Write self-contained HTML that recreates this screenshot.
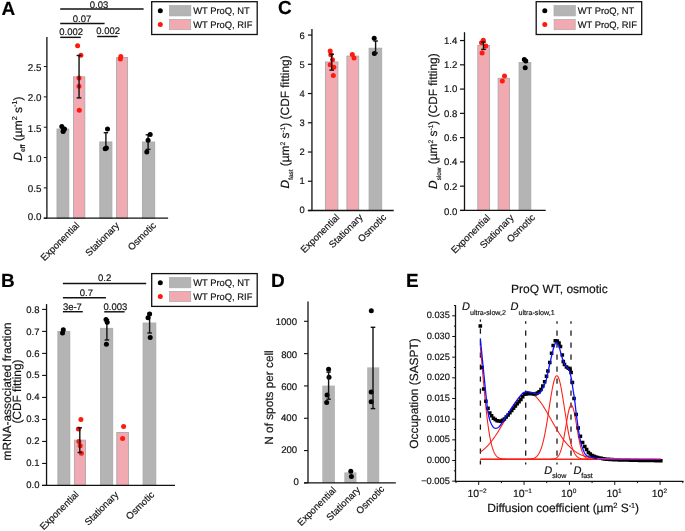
<!DOCTYPE html>
<html><head><meta charset="utf-8"><style>
html,body{margin:0;padding:0;background:#fff;overflow:hidden;}
svg{display:block;font-family:"Liberation Sans", sans-serif;text-rendering:geometricPrecision;will-change:transform;} text{stroke:#111;stroke-width:0.17px;}
</style></head><body>
<svg width="685" height="531" viewBox="0 0 685 531">
<rect width="685" height="531" fill="#fff"/>
<text x="1.6" y="14.7" font-size="19" font-weight="bold" fill="#000">A</text>
<rect x="57" y="129.03" width="11.8" height="89.17" fill="#b3b4b3" stroke="#a9a9a9" stroke-width="0.9"/>
<rect x="73.5" y="76.86" width="11.3" height="141.34" fill="#f1aab1" stroke="#a9a9a9" stroke-width="0.9"/>
<rect x="99.8" y="141.95" width="12.1" height="76.25" fill="#b3b4b3" stroke="#a9a9a9" stroke-width="0.9"/>
<rect x="116.6" y="57.45" width="11" height="160.75" fill="#f1aab1" stroke="#a9a9a9" stroke-width="0.9"/>
<rect x="142.4" y="142.01" width="12.3" height="76.19" fill="#b3b4b3" stroke="#a9a9a9" stroke-width="0.9"/>
<line x1="46.9" y1="36.9" x2="46.9" y2="218.2" stroke="#111" stroke-width="1.3"/>
<line x1="43.8" y1="218.2" x2="168.1" y2="218.2" stroke="#111" stroke-width="1.3"/>
<line x1="43.8" y1="218.2" x2="46.9" y2="218.2" stroke="#111" stroke-width="1.0"/>
<text x="41.4" y="220" font-size="9.85" text-anchor="end" fill="#111">0.0</text>
<line x1="43.8" y1="187.87" x2="46.9" y2="187.87" stroke="#111" stroke-width="1.0"/>
<text x="41.4" y="192.27" font-size="9.85" text-anchor="end" fill="#111">0.5</text>
<line x1="43.8" y1="157.54" x2="46.9" y2="157.54" stroke="#111" stroke-width="1.0"/>
<text x="41.4" y="161.94" font-size="9.85" text-anchor="end" fill="#111">1.0</text>
<line x1="43.8" y1="127.21" x2="46.9" y2="127.21" stroke="#111" stroke-width="1.0"/>
<text x="41.4" y="131.61" font-size="9.85" text-anchor="end" fill="#111">1.5</text>
<line x1="43.8" y1="96.88" x2="46.9" y2="96.88" stroke="#111" stroke-width="1.0"/>
<text x="41.4" y="101.28" font-size="9.85" text-anchor="end" fill="#111">2.0</text>
<line x1="43.8" y1="66.55" x2="46.9" y2="66.55" stroke="#111" stroke-width="1.0"/>
<text x="41.4" y="70.95" font-size="9.85" text-anchor="end" fill="#111">2.5</text>
<circle cx="77.6" cy="45.85" r="2.5" fill="#ff1a0f"/>
<circle cx="80.9" cy="55.2" r="2.5" fill="#ff1a0f"/>
<circle cx="79" cy="78" r="2.5" fill="#ff1a0f"/>
<circle cx="79" cy="86.3" r="2.5" fill="#ff1a0f"/>
<circle cx="79.3" cy="110.2" r="2.5" fill="#ff1a0f"/>
<line x1="79.05" y1="55.5" x2="79.05" y2="97.9" stroke="#111" stroke-width="1.4"/>
<line x1="76.65" y1="55.5" x2="81.45" y2="55.5" stroke="#111" stroke-width="1.4"/>
<line x1="76.65" y1="97.9" x2="81.45" y2="97.9" stroke="#111" stroke-width="1.4"/>
<circle cx="120.8" cy="56.4" r="2.5" fill="#ff1a0f"/>
<circle cx="120.4" cy="59" r="2.5" fill="#ff1a0f"/>
<circle cx="61.8" cy="126.4" r="2.5" fill="#000"/>
<circle cx="64.5" cy="128.9" r="2.5" fill="#000"/>
<circle cx="63.1" cy="131.6" r="2.5" fill="#000"/>
<circle cx="63.4" cy="130.2" r="2.5" fill="#000"/>
<line x1="105.9" y1="132.7" x2="105.9" y2="148" stroke="#111" stroke-width="1.4"/>
<line x1="103.7" y1="132.7" x2="108.1" y2="132.7" stroke="#111" stroke-width="1.4"/>
<line x1="103.7" y1="148" x2="108.1" y2="148" stroke="#111" stroke-width="1.4"/>
<circle cx="107.5" cy="129.1" r="2.5" fill="#000"/>
<circle cx="105.2" cy="148.8" r="2.5" fill="#000"/>
<circle cx="106.4" cy="148" r="2.5" fill="#000"/>
<line x1="148.1" y1="134.8" x2="148.1" y2="149.4" stroke="#111" stroke-width="1.4"/>
<line x1="145.7" y1="134.8" x2="150.5" y2="134.8" stroke="#111" stroke-width="1.4"/>
<line x1="145.7" y1="149.4" x2="150.5" y2="149.4" stroke="#111" stroke-width="1.4"/>
<circle cx="150.2" cy="134.5" r="2.5" fill="#000"/>
<circle cx="148.1" cy="140.3" r="2.5" fill="#000"/>
<circle cx="146.8" cy="151.9" r="2.5" fill="#000"/>
<line x1="60.2" y1="9" x2="143.6" y2="9" stroke="#111" stroke-width="1.45"/>
<text x="99.05" y="7.8" font-size="9.5" text-anchor="middle" fill="#111">0.03</text>
<line x1="60.2" y1="23.5" x2="104.6" y2="23.5" stroke="#111" stroke-width="1.45"/>
<text x="82.05" y="21.6" font-size="9.5" text-anchor="middle" fill="#111">0.07</text>
<line x1="60.2" y1="37.35" x2="80.8" y2="37.35" stroke="#111" stroke-width="1.45"/>
<text x="71.15" y="34.8" font-size="9.5" text-anchor="middle" fill="#111">0.002</text>
<line x1="97.2" y1="36.5" x2="117.6" y2="36.5" stroke="#111" stroke-width="1.45"/>
<text x="108.2" y="34" font-size="9.5" text-anchor="middle" fill="#111">0.002</text>
<text transform="translate(21.9 160.7) rotate(-90)" font-size="12" fill="#111"><tspan font-style="italic">D</tspan><tspan font-size="6.8" dy="3.2">eff</tspan><tspan dy="-3.2"> (µm</tspan><tspan font-size="7.2" dy="-4.6">2</tspan><tspan dy="4.6"> s</tspan><tspan font-size="7.2" dy="-4.6">-1</tspan><tspan dy="4.6">)</tspan></text>
<text x="80.1" y="226" font-size="9.65" text-anchor="end" fill="#111" transform="rotate(-45 80.1 226)">Exponential</text>
<text x="120" y="226" font-size="9.65" text-anchor="end" fill="#111" transform="rotate(-45 120 226)">Stationary</text>
<text x="156.6" y="226" font-size="9.65" text-anchor="end" fill="#111" transform="rotate(-45 156.6 226)">Osmotic</text>
<text x="1" y="286.7" font-size="19" font-weight="bold" fill="#000">B</text>
<rect x="57.9" y="331.41" width="11.9" height="154.04" fill="#b3b4b3" stroke="#a9a9a9" stroke-width="0.9"/>
<rect x="74.4" y="440.12" width="11.1" height="45.33" fill="#f1aab1" stroke="#a9a9a9" stroke-width="0.9"/>
<rect x="100.6" y="328.33" width="12.1" height="157.12" fill="#b3b4b3" stroke="#a9a9a9" stroke-width="0.9"/>
<rect x="116.8" y="432.5" width="11.7" height="52.95" fill="#f1aab1" stroke="#a9a9a9" stroke-width="0.9"/>
<rect x="143.1" y="323.05" width="12.7" height="162.4" fill="#b3b4b3" stroke="#a9a9a9" stroke-width="0.9"/>
<line x1="46.55" y1="304.1" x2="46.55" y2="485.45" stroke="#111" stroke-width="1.3"/>
<line x1="42.1" y1="485.45" x2="175" y2="485.45" stroke="#111" stroke-width="1.3"/>
<line x1="42.1" y1="485.45" x2="46.55" y2="485.45" stroke="#111" stroke-width="1.1"/>
<text x="39.5" y="488.05" font-size="9.5" text-anchor="end" fill="#111">0.0</text>
<line x1="42.1" y1="463.44" x2="46.55" y2="463.44" stroke="#111" stroke-width="1.1"/>
<text x="39.5" y="466.13" font-size="9.5" text-anchor="end" fill="#111">0.1</text>
<line x1="42.1" y1="441.44" x2="46.55" y2="441.44" stroke="#111" stroke-width="1.1"/>
<text x="39.5" y="444.21" font-size="9.5" text-anchor="end" fill="#111">0.2</text>
<line x1="42.1" y1="419.43" x2="46.55" y2="419.43" stroke="#111" stroke-width="1.1"/>
<text x="39.5" y="422.29" font-size="9.5" text-anchor="end" fill="#111">0.3</text>
<line x1="42.1" y1="397.43" x2="46.55" y2="397.43" stroke="#111" stroke-width="1.1"/>
<text x="39.5" y="400.38" font-size="9.5" text-anchor="end" fill="#111">0.4</text>
<line x1="42.1" y1="375.42" x2="46.55" y2="375.42" stroke="#111" stroke-width="1.1"/>
<text x="39.5" y="378.46" font-size="9.5" text-anchor="end" fill="#111">0.5</text>
<line x1="42.1" y1="353.41" x2="46.55" y2="353.41" stroke="#111" stroke-width="1.1"/>
<text x="39.5" y="356.54" font-size="9.5" text-anchor="end" fill="#111">0.6</text>
<line x1="42.1" y1="331.41" x2="46.55" y2="331.41" stroke="#111" stroke-width="1.1"/>
<text x="39.5" y="334.62" font-size="9.5" text-anchor="end" fill="#111">0.7</text>
<line x1="42.1" y1="309.4" x2="46.55" y2="309.4" stroke="#111" stroke-width="1.1"/>
<text x="39.5" y="312.7" font-size="9.5" text-anchor="end" fill="#111">0.8</text>
<circle cx="80.9" cy="419.4" r="2.5" fill="#ff1a0f"/>
<circle cx="78.4" cy="429.1" r="2.5" fill="#ff1a0f"/>
<circle cx="78.9" cy="441.5" r="2.5" fill="#ff1a0f"/>
<circle cx="80.2" cy="445.7" r="2.5" fill="#ff1a0f"/>
<circle cx="81.4" cy="453.2" r="2.5" fill="#ff1a0f"/>
<line x1="79.8" y1="427.8" x2="79.8" y2="452.5" stroke="#111" stroke-width="1.4"/>
<line x1="77.6" y1="427.8" x2="82" y2="427.8" stroke="#111" stroke-width="1.4"/>
<line x1="77.6" y1="452.5" x2="82" y2="452.5" stroke="#111" stroke-width="1.4"/>
<circle cx="123.6" cy="426.6" r="2.5" fill="#ff1a0f"/>
<circle cx="122.6" cy="438.5" r="2.5" fill="#ff1a0f"/>
<circle cx="63.3" cy="329.7" r="2.5" fill="#000"/>
<circle cx="62.5" cy="333" r="2.5" fill="#000"/>
<line x1="106.9" y1="319.7" x2="106.9" y2="340" stroke="#111" stroke-width="1.4"/>
<line x1="104.6" y1="319.7" x2="109.2" y2="319.7" stroke="#111" stroke-width="1.4"/>
<line x1="104.6" y1="340" x2="109.2" y2="340" stroke="#111" stroke-width="1.4"/>
<circle cx="106" cy="319.4" r="2.5" fill="#000"/>
<circle cx="107.2" cy="322.2" r="2.5" fill="#000"/>
<circle cx="106.4" cy="344.3" r="2.5" fill="#000"/>
<line x1="149.6" y1="313.4" x2="149.6" y2="333" stroke="#111" stroke-width="1.4"/>
<line x1="147.3" y1="313.4" x2="151.9" y2="313.4" stroke="#111" stroke-width="1.4"/>
<line x1="147.3" y1="333" x2="151.9" y2="333" stroke="#111" stroke-width="1.4"/>
<circle cx="149.6" cy="314" r="2.5" fill="#000"/>
<circle cx="148" cy="317.7" r="2.5" fill="#000"/>
<circle cx="150.2" cy="337.6" r="2.5" fill="#000"/>
<line x1="62.9" y1="283.45" x2="146.2" y2="283.45" stroke="#111" stroke-width="1.45"/>
<text x="104.6" y="281.2" font-size="9.5" text-anchor="middle" fill="#111">0.2</text>
<line x1="62.9" y1="297.65" x2="105.9" y2="297.65" stroke="#111" stroke-width="1.45"/>
<text x="86.35" y="295.6" font-size="9.5" text-anchor="middle" fill="#111">0.7</text>
<line x1="62.9" y1="311.7" x2="82.8" y2="311.7" stroke="#111" stroke-width="1.45"/>
<text x="72.4" y="309.7" font-size="9.5" text-anchor="middle" fill="#111">3e-7</text>
<line x1="104.2" y1="311.8" x2="124.6" y2="311.8" stroke="#111" stroke-width="1.45"/>
<text x="115.35" y="309.7" font-size="9.5" text-anchor="middle" fill="#111">0.003</text>
<text transform="translate(10.6 391.4) rotate(-90)" font-size="11.9" fill="#111" text-anchor="middle">mRNA-associated fraction</text>
<text transform="translate(20.5 391.55) rotate(-90)" font-size="11.9" fill="#111" text-anchor="middle">(CDF fitting)</text>
<text x="79.4" y="495" font-size="9.65" text-anchor="end" fill="#111" transform="rotate(-45 79.4 495)">Exponential</text>
<text x="119.1" y="495.3" font-size="9.65" text-anchor="end" fill="#111" transform="rotate(-45 119.1 495.3)">Stationary</text>
<text x="154.8" y="495.3" font-size="9.65" text-anchor="end" fill="#111" transform="rotate(-45 154.8 495.3)">Osmotic</text>
<text x="277.9" y="14.4" font-size="19" font-weight="bold" fill="#000">C</text>
<rect x="325.4" y="61.99" width="12.5" height="148.51" fill="#f1aab1" stroke="#a9a9a9" stroke-width="0.9"/>
<rect x="346.9" y="56.11" width="11.8" height="154.39" fill="#f1aab1" stroke="#a9a9a9" stroke-width="0.9"/>
<rect x="369.1" y="48.22" width="12.6" height="162.28" fill="#b3b4b3" stroke="#a9a9a9" stroke-width="0.9"/>
<line x1="311.95" y1="29.05" x2="311.95" y2="210.5" stroke="#111" stroke-width="1.3"/>
<line x1="307.9" y1="210.5" x2="393.7" y2="210.5" stroke="#111" stroke-width="1.3"/>
<line x1="307.9" y1="210.5" x2="311.95" y2="210.5" stroke="#111" stroke-width="1.2"/>
<text x="304.7" y="212.8" font-size="9.4" text-anchor="end" fill="#111">0</text>
<line x1="307.9" y1="181.26" x2="311.95" y2="181.26" stroke="#111" stroke-width="1.2"/>
<text x="304.7" y="184.16" font-size="9.4" text-anchor="end" fill="#111">1</text>
<line x1="307.9" y1="152.02" x2="311.95" y2="152.02" stroke="#111" stroke-width="1.2"/>
<text x="304.7" y="155.12" font-size="9.4" text-anchor="end" fill="#111">2</text>
<line x1="307.9" y1="122.78" x2="311.95" y2="122.78" stroke="#111" stroke-width="1.2"/>
<text x="304.7" y="126.08" font-size="9.4" text-anchor="end" fill="#111">3</text>
<line x1="307.9" y1="93.54" x2="311.95" y2="93.54" stroke="#111" stroke-width="1.2"/>
<text x="304.7" y="97.04" font-size="9.4" text-anchor="end" fill="#111">4</text>
<line x1="307.9" y1="64.3" x2="311.95" y2="64.3" stroke="#111" stroke-width="1.2"/>
<text x="304.7" y="68" font-size="9.4" text-anchor="end" fill="#111">5</text>
<line x1="307.9" y1="35.06" x2="311.95" y2="35.06" stroke="#111" stroke-width="1.2"/>
<text x="304.7" y="38.96" font-size="9.4" text-anchor="end" fill="#111">6</text>
<circle cx="330.2" cy="51" r="2.5" fill="#ff1a0f"/>
<circle cx="330.8" cy="54.7" r="2.5" fill="#ff1a0f"/>
<circle cx="332.5" cy="59.7" r="2.5" fill="#ff1a0f"/>
<circle cx="330.2" cy="64.7" r="2.5" fill="#ff1a0f"/>
<circle cx="333.8" cy="67.2" r="2.5" fill="#ff1a0f"/>
<circle cx="333.3" cy="75.5" r="2.5" fill="#ff1a0f"/>
<line x1="331.7" y1="54.2" x2="331.7" y2="70.1" stroke="#111" stroke-width="1.4"/>
<line x1="329.4" y1="54.2" x2="334" y2="54.2" stroke="#111" stroke-width="1.4"/>
<line x1="329.4" y1="70.1" x2="334" y2="70.1" stroke="#111" stroke-width="1.4"/>
<circle cx="352.3" cy="54.4" r="2.5" fill="#ff1a0f"/>
<circle cx="354" cy="58.1" r="2.5" fill="#ff1a0f"/>
<circle cx="374.2" cy="38.2" r="2.5" fill="#000"/>
<circle cx="374.4" cy="53.4" r="2.5" fill="#000"/>
<line x1="375.6" y1="41" x2="375.6" y2="53" stroke="#111" stroke-width="1.4"/>
<line x1="373.3" y1="41" x2="377.9" y2="41" stroke="#111" stroke-width="1.4"/>
<line x1="373.3" y1="53" x2="377.9" y2="53" stroke="#111" stroke-width="1.4"/>
<text transform="translate(289.4 188.4) rotate(-90)" font-size="11.9" fill="#111"><tspan font-style="italic">D</tspan><tspan font-size="6.4" dy="3.4">fast</tspan><tspan dy="-3.4"> (µm</tspan><tspan font-size="6.6" dy="-4.2">2</tspan><tspan dy="4.2"> s</tspan><tspan font-size="6.6" dy="-4.2">-1</tspan><tspan dy="4.2">) (CDF fitting)</tspan></text>
<text x="340.1" y="218" font-size="9.65" text-anchor="end" fill="#111" transform="rotate(-45 340.1 218)">Exponential</text>
<text x="363.5" y="217.9" font-size="9.65" text-anchor="end" fill="#111" transform="rotate(-45 363.5 217.9)">Stationary</text>
<text x="386.8" y="217.9" font-size="9.65" text-anchor="end" fill="#111" transform="rotate(-45 386.8 217.9)">Osmotic</text>
<rect x="477.8" y="45.4" width="11.8" height="165.05" fill="#f1aab1" stroke="#a9a9a9" stroke-width="0.9"/>
<rect x="498.1" y="78.29" width="11.4" height="132.16" fill="#f1aab1" stroke="#a9a9a9" stroke-width="0.9"/>
<rect x="519.1" y="62.51" width="11.7" height="147.94" fill="#b3b4b3" stroke="#a9a9a9" stroke-width="0.9"/>
<line x1="464.5" y1="32.2" x2="464.5" y2="210.45" stroke="#111" stroke-width="1.3"/>
<line x1="460" y1="210.45" x2="545.7" y2="210.45" stroke="#111" stroke-width="1.3"/>
<line x1="460" y1="210.45" x2="464.5" y2="210.45" stroke="#111" stroke-width="1.2"/>
<text x="457.3" y="214.85" font-size="9.6" text-anchor="end" fill="#111">0.0</text>
<line x1="460" y1="186.18" x2="464.5" y2="186.18" stroke="#111" stroke-width="1.2"/>
<text x="457.3" y="189.58" font-size="9.6" text-anchor="end" fill="#111">0.2</text>
<line x1="460" y1="161.91" x2="464.5" y2="161.91" stroke="#111" stroke-width="1.2"/>
<text x="457.3" y="165.31" font-size="9.6" text-anchor="end" fill="#111">0.4</text>
<line x1="460" y1="137.63" x2="464.5" y2="137.63" stroke="#111" stroke-width="1.2"/>
<text x="457.3" y="141.03" font-size="9.6" text-anchor="end" fill="#111">0.6</text>
<line x1="460" y1="113.36" x2="464.5" y2="113.36" stroke="#111" stroke-width="1.2"/>
<text x="457.3" y="116.76" font-size="9.6" text-anchor="end" fill="#111">0.8</text>
<line x1="460" y1="89.09" x2="464.5" y2="89.09" stroke="#111" stroke-width="1.2"/>
<text x="457.3" y="92.49" font-size="9.6" text-anchor="end" fill="#111">1.0</text>
<line x1="460" y1="64.82" x2="464.5" y2="64.82" stroke="#111" stroke-width="1.2"/>
<text x="457.3" y="68.22" font-size="9.6" text-anchor="end" fill="#111">1.2</text>
<line x1="460" y1="40.55" x2="464.5" y2="40.55" stroke="#111" stroke-width="1.2"/>
<text x="457.3" y="43.95" font-size="9.6" text-anchor="end" fill="#111">1.4</text>
<circle cx="483.3" cy="40.3" r="2.5" fill="#ff1a0f"/>
<circle cx="481.5" cy="42.8" r="2.5" fill="#ff1a0f"/>
<circle cx="485.8" cy="46" r="2.5" fill="#ff1a0f"/>
<circle cx="482.1" cy="53" r="2.5" fill="#ff1a0f"/>
<line x1="483.5" y1="42.1" x2="483.5" y2="49.4" stroke="#111" stroke-width="1.4"/>
<line x1="481.2" y1="42.1" x2="485.8" y2="42.1" stroke="#111" stroke-width="1.4"/>
<line x1="481.2" y1="49.4" x2="485.8" y2="49.4" stroke="#111" stroke-width="1.4"/>
<circle cx="504.5" cy="75.9" r="2.5" fill="#ff1a0f"/>
<circle cx="502.3" cy="80.9" r="2.5" fill="#ff1a0f"/>
<circle cx="524.3" cy="59.4" r="2.5" fill="#000"/>
<circle cx="525.8" cy="60.9" r="2.5" fill="#000"/>
<circle cx="525.2" cy="67.7" r="2.5" fill="#000"/>
<text transform="translate(437.4 188.9) rotate(-90)" font-size="11.9" fill="#111"><tspan font-style="italic">D</tspan><tspan font-size="6.4" dy="3.4">slow</tspan><tspan dy="-3.4"> (µm</tspan><tspan font-size="6.6" dy="-4.2">2</tspan><tspan dy="4.2"> s</tspan><tspan font-size="6.6" dy="-4.2">-1</tspan><tspan dy="4.2">) (CDF fitting)</tspan></text>
<text x="490.7" y="218.5" font-size="9.65" text-anchor="end" fill="#111" transform="rotate(-45 490.7 218.5)">Exponential</text>
<text x="514.3" y="218.4" font-size="9.65" text-anchor="end" fill="#111" transform="rotate(-45 514.3 218.4)">Stationary</text>
<text x="535.6" y="218.1" font-size="9.65" text-anchor="end" fill="#111" transform="rotate(-45 535.6 218.1)">Osmotic</text>
<text x="271" y="286.8" font-size="19" font-weight="bold" fill="#000">D</text>
<rect x="322.3" y="385.62" width="12.6" height="97.28" fill="#b3b4b3"/>
<rect x="344.3" y="472.4" width="12.2" height="10.5" fill="#b3b4b3"/>
<rect x="367.2" y="367.36" width="12" height="115.54" fill="#b3b4b3"/>
<line x1="308" y1="301.4" x2="308" y2="482.9" stroke="#111" stroke-width="1.3"/>
<line x1="304" y1="482.9" x2="395.8" y2="482.9" stroke="#111" stroke-width="1.3"/>
<line x1="304" y1="482.9" x2="308" y2="482.9" stroke="#111" stroke-width="1.1"/>
<text x="298.9" y="485.1" font-size="9.6" text-anchor="end" fill="#111">0</text>
<line x1="304" y1="450.58" x2="308" y2="450.58" stroke="#111" stroke-width="1.1"/>
<text x="297.2" y="453.48" font-size="9.6" text-anchor="end" fill="#111">200</text>
<line x1="304" y1="418.26" x2="308" y2="418.26" stroke="#111" stroke-width="1.1"/>
<text x="297" y="421.06" font-size="9.6" text-anchor="end" fill="#111">400</text>
<line x1="304" y1="385.94" x2="308" y2="385.94" stroke="#111" stroke-width="1.1"/>
<text x="297.2" y="389.84" font-size="9.6" text-anchor="end" fill="#111">600</text>
<line x1="304" y1="353.62" x2="308" y2="353.62" stroke="#111" stroke-width="1.1"/>
<text x="297.2" y="357.52" font-size="9.6" text-anchor="end" fill="#111">800</text>
<line x1="304" y1="321.3" x2="308" y2="321.3" stroke="#111" stroke-width="1.1"/>
<text x="297" y="325.2" font-size="9.6" text-anchor="end" fill="#111">1000</text>
<circle cx="328.6" cy="369.3" r="2.5" fill="#000"/>
<circle cx="329" cy="377.2" r="2.5" fill="#000"/>
<circle cx="327.1" cy="395.1" r="2.5" fill="#000"/>
<circle cx="326.7" cy="402.6" r="2.5" fill="#000"/>
<line x1="328.6" y1="372.1" x2="328.6" y2="399.2" stroke="#111" stroke-width="1.4"/>
<line x1="326.4" y1="372.1" x2="330.8" y2="372.1" stroke="#111" stroke-width="1.4"/>
<line x1="326.4" y1="399.2" x2="330.8" y2="399.2" stroke="#111" stroke-width="1.4"/>
<circle cx="350.8" cy="471.3" r="2.5" fill="#000"/>
<circle cx="351.4" cy="476.4" r="2.5" fill="#000"/>
<circle cx="371.3" cy="310.7" r="2.5" fill="#000"/>
<circle cx="371.2" cy="391.9" r="2.5" fill="#000"/>
<circle cx="371.2" cy="401.7" r="2.5" fill="#000"/>
<line x1="373" y1="327.3" x2="373" y2="408.6" stroke="#111" stroke-width="1.4"/>
<line x1="370.7" y1="327.3" x2="375.3" y2="327.3" stroke="#111" stroke-width="1.4"/>
<line x1="370.7" y1="408.6" x2="375.3" y2="408.6" stroke="#111" stroke-width="1.4"/>
<text transform="translate(273.2 397.5) rotate(-90)" font-size="11.8" fill="#111" text-anchor="middle">N of spots per cell</text>
<text x="336.9" y="490.8" font-size="9.65" text-anchor="end" fill="#111" transform="rotate(-45 336.9 490.8)">Exponential</text>
<text x="360.9" y="490.5" font-size="9.65" text-anchor="end" fill="#111" transform="rotate(-45 360.9 490.5)">Stationary</text>
<text x="385" y="489.7" font-size="9.65" text-anchor="end" fill="#111" transform="rotate(-45 385 489.7)">Osmotic</text>
<text x="405.9" y="286.6" font-size="19" font-weight="bold" fill="#000">E</text>
<line x1="455.5" y1="305.1" x2="455.5" y2="481.45" stroke="#111" stroke-width="1.3"/>
<line x1="454.9" y1="481.45" x2="683.5" y2="481.45" stroke="#111" stroke-width="1.3"/>
<line x1="452.2" y1="481.17" x2="455.5" y2="481.17" stroke="#111" stroke-width="1.0"/>
<text x="449.9" y="483.77" font-size="9.3" text-anchor="end" fill="#111">&#8722;0.005</text>
<line x1="453.9" y1="470.83" x2="455.5" y2="470.83" stroke="#111" stroke-width="1.0"/>
<line x1="452.2" y1="460.5" x2="455.5" y2="460.5" stroke="#111" stroke-width="1.0"/>
<text x="449.9" y="463.1" font-size="9.3" text-anchor="end" fill="#111">0.000</text>
<line x1="453.9" y1="450.17" x2="455.5" y2="450.17" stroke="#111" stroke-width="1.0"/>
<line x1="452.2" y1="439.83" x2="455.5" y2="439.83" stroke="#111" stroke-width="1.0"/>
<text x="449.9" y="442.43" font-size="9.3" text-anchor="end" fill="#111">0.005</text>
<line x1="453.9" y1="429.5" x2="455.5" y2="429.5" stroke="#111" stroke-width="1.0"/>
<line x1="452.2" y1="419.16" x2="455.5" y2="419.16" stroke="#111" stroke-width="1.0"/>
<text x="449.9" y="421.76" font-size="9.3" text-anchor="end" fill="#111">0.010</text>
<line x1="453.9" y1="408.82" x2="455.5" y2="408.82" stroke="#111" stroke-width="1.0"/>
<line x1="452.2" y1="398.49" x2="455.5" y2="398.49" stroke="#111" stroke-width="1.0"/>
<text x="449.9" y="401.09" font-size="9.3" text-anchor="end" fill="#111">0.015</text>
<line x1="453.9" y1="388.15" x2="455.5" y2="388.15" stroke="#111" stroke-width="1.0"/>
<line x1="452.2" y1="377.82" x2="455.5" y2="377.82" stroke="#111" stroke-width="1.0"/>
<text x="449.9" y="380.42" font-size="9.3" text-anchor="end" fill="#111">0.020</text>
<line x1="453.9" y1="367.49" x2="455.5" y2="367.49" stroke="#111" stroke-width="1.0"/>
<line x1="452.2" y1="357.15" x2="455.5" y2="357.15" stroke="#111" stroke-width="1.0"/>
<text x="449.9" y="359.75" font-size="9.3" text-anchor="end" fill="#111">0.025</text>
<line x1="453.9" y1="346.81" x2="455.5" y2="346.81" stroke="#111" stroke-width="1.0"/>
<line x1="452.2" y1="336.48" x2="455.5" y2="336.48" stroke="#111" stroke-width="1.0"/>
<text x="449.9" y="339.08" font-size="9.3" text-anchor="end" fill="#111">0.030</text>
<line x1="453.9" y1="326.14" x2="455.5" y2="326.14" stroke="#111" stroke-width="1.0"/>
<line x1="452.2" y1="315.81" x2="455.5" y2="315.81" stroke="#111" stroke-width="1.0"/>
<text x="449.9" y="318.41" font-size="9.3" text-anchor="end" fill="#111">0.035</text>
<line x1="453.9" y1="305.48" x2="455.5" y2="305.48" stroke="#111" stroke-width="1.0"/>
<line x1="456.02" y1="481.45" x2="456.02" y2="483.15" stroke="#111" stroke-width="1.0"/>
<line x1="478.7" y1="481.45" x2="478.7" y2="484.85" stroke="#111" stroke-width="1.0"/>
<text x="477.1" y="497.0" font-size="10.5" text-anchor="middle" fill="#111">10<tspan font-size="6.5" dy="-3.8">&#8722;2</tspan></text>
<line x1="501.38" y1="481.45" x2="501.38" y2="483.15" stroke="#111" stroke-width="1.0"/>
<line x1="524.05" y1="481.45" x2="524.05" y2="484.85" stroke="#111" stroke-width="1.0"/>
<text x="522.45" y="497.0" font-size="10.5" text-anchor="middle" fill="#111">10<tspan font-size="6.5" dy="-3.8">&#8722;1</tspan></text>
<line x1="546.73" y1="481.45" x2="546.73" y2="483.15" stroke="#111" stroke-width="1.0"/>
<line x1="569.4" y1="481.45" x2="569.4" y2="484.85" stroke="#111" stroke-width="1.0"/>
<text x="568.7" y="497.0" font-size="10.5" text-anchor="middle" fill="#111">10<tspan font-size="6.5" dy="-3.8">0</tspan></text>
<line x1="592.07" y1="481.45" x2="592.07" y2="483.15" stroke="#111" stroke-width="1.0"/>
<line x1="614.75" y1="481.45" x2="614.75" y2="484.85" stroke="#111" stroke-width="1.0"/>
<text x="614.05" y="497.0" font-size="10.5" text-anchor="middle" fill="#111">10<tspan font-size="6.5" dy="-3.8">1</tspan></text>
<line x1="637.42" y1="481.45" x2="637.42" y2="483.15" stroke="#111" stroke-width="1.0"/>
<line x1="660.1" y1="481.45" x2="660.1" y2="484.85" stroke="#111" stroke-width="1.0"/>
<text x="659.4" y="497.0" font-size="10.5" text-anchor="middle" fill="#111">10<tspan font-size="6.5" dy="-3.8">2</tspan></text>
<line x1="682.77" y1="481.45" x2="682.77" y2="483.15" stroke="#111" stroke-width="1.0"/>
<text x="559.4" y="292.5" font-size="12.0" text-anchor="middle" fill="#111">ProQ WT, osmotic</text>
<text x="487.3" y="511.8" font-size="12.0" fill="#111" textLength="151.6" lengthAdjust="spacing">Diffusion coefficient (µm<tspan font-size="7.6" dy="-3.7">2</tspan><tspan dy="3.7"> S</tspan><tspan font-size="7.2" dy="-4.3">-1</tspan><tspan dy="4.3">)</tspan></text>
<text transform="translate(417.6 393.5) rotate(-90)" font-size="11.9" fill="#111" text-anchor="middle">Occupation (SASPT)</text>
<text x="462" y="310.4" font-size="11" fill="#111"><tspan font-style="italic">D</tspan><tspan font-size="7.15" dy="4.2">ultra-slow,2</tspan></text>
<text x="510.6" y="310.4" font-size="11" fill="#111"><tspan font-style="italic">D</tspan><tspan font-size="7.15" dy="4.2">ultra-slow,1</tspan></text>
<text x="544.2" y="473.8" font-size="11" fill="#111"><tspan font-style="italic">D</tspan><tspan font-size="7.15" dy="4.2">slow</tspan></text>
<text x="573.4" y="473.8" font-size="11" fill="#111"><tspan font-style="italic">D</tspan><tspan font-size="7.15" dy="4.2">fast</tspan></text>
<line x1="480.4" y1="319.5" x2="480.4" y2="464.5" stroke="#1a1a1a" stroke-width="1.3" stroke-dasharray="5.2,6.8" stroke-dashoffset="3.0"/>
<line x1="525.7" y1="321.3" x2="525.7" y2="464.5" stroke="#1a1a1a" stroke-width="1.3" stroke-dasharray="5.2,6.8" stroke-dashoffset="2.8"/>
<line x1="557" y1="321.3" x2="557" y2="464.5" stroke="#1a1a1a" stroke-width="1.3" stroke-dasharray="5.2,6.8" stroke-dashoffset="2.8"/>
<line x1="571" y1="321.3" x2="571" y2="464.5" stroke="#1a1a1a" stroke-width="1.3" stroke-dasharray="5.2,6.8" stroke-dashoffset="2.8"/>
<path d="M480.3,346.5 L480.8,351.93 L481.3,357.5 L481.8,363.16 L482.3,368.85 L482.8,374.54 L483.3,380.17 L483.8,385.72 L484.3,391.15 L484.8,396.42 L485.3,401.5 L485.8,406.39 L486.3,411.04 L486.8,415.46 L487.3,419.62 L487.8,423.53 L488.3,427.18 L488.8,430.57 L489.3,433.69 L489.8,436.57 L490.3,439.2 L490.8,441.59 L491.3,443.75 L491.8,445.71 L492.3,447.46 L492.8,449.02 L493.3,450.41 L493.8,451.64 L494.3,452.72 L494.8,453.67 L495.3,454.5 L495.8,455.22 L496.3,455.84 L496.8,456.38 L497.3,456.84 L497.8,457.23 L498.3,457.57 L498.8,457.85 L499.3,458.09 L499.8,458.28 L500.3,458.45 L500.8,458.59 L501.3,458.7 L501.8,458.8 L502.3,458.88 L502.8,458.94 L503.3,458.99 L503.8,459.03 L504.3,459.07 L504.8,459.1 L505.3,459.12 L505.8,459.13 L506.3,459.15 L506.8,459.16 L507.3,459.17 L507.8,459.17 L508.3,459.18 L508.8,459.18 L509.3,459.19 L509.8,459.19 L510.3,459.19 L510.8,459.19 L511.3,459.19 L511.8,459.2 L512.3,459.2 L512.8,459.2 L513.3,459.2 L513.8,459.2 L514.3,459.2 L514.8,459.2 L515.3,459.2 L515.8,459.2 L516.3,459.2 L516.8,459.2 L517.3,459.2 L517.8,459.2 L518.3,459.2 L518.8,459.2 L519.3,459.2 L519.8,459.2 L520.3,459.2 L520.8,459.2 L521.3,459.2 L521.8,459.2 L522.3,459.2 L522.8,459.2 L523.3,459.2 L523.8,459.2 L524.3,459.2 L524.8,459.2 L525.3,459.2 L525.8,459.2 L526.3,459.2 L526.8,459.2 L527.3,459.2 L527.8,459.2 L528.3,459.2 L528.8,459.2 L529.3,459.2 L529.8,459.2 L530.3,459.2 L530.8,459.2 L531.3,459.2 L531.8,459.2 L532.3,459.2 L532.8,459.2 L533.3,459.2 L533.8,459.2 L534.3,459.2 L534.8,459.2 L535.3,459.2 L535.8,459.2 L536.3,459.2 L536.8,459.2 L537.3,459.2 L537.8,459.2 L538.3,459.2 L538.8,459.2 L539.3,459.2 L539.8,459.2 L540.3,459.2 L540.8,459.2 L541.3,459.2 L541.8,459.2 L542.3,459.2 L542.8,459.2 L543.3,459.2 L543.8,459.2 L544.3,459.2 L544.8,459.2 L545.3,459.2 L545.8,459.2 L546.3,459.2 L546.8,459.2 L547.3,459.2 L547.8,459.2 L548.3,459.2 L548.8,459.2 L549.3,459.2 L549.8,459.2 L550.3,459.2 L550.8,459.2 L551.3,459.2 L551.8,459.2 L552.3,459.2 L552.8,459.2 L553.3,459.2 L553.8,459.2 L554.3,459.2 L554.8,459.2 L555.3,459.2 L555.8,459.2 L556.3,459.2 L556.8,459.2 L557.3,459.2 L557.8,459.2 L558.3,459.2 L558.8,459.2 L559.3,459.2 L559.8,459.2 L560.3,459.2 L560.8,459.2 L561.3,459.2 L561.8,459.2 L562.3,459.2 L562.8,459.2 L563.3,459.2 L563.8,459.2 L564.3,459.2 L564.8,459.2 L565.3,459.2 L565.8,459.2 L566.3,459.2 L566.8,459.2 L567.3,459.2 L567.8,459.2 L568.3,459.2 L568.8,459.2 L569.3,459.2 L569.8,459.2 L570.3,459.2 L570.8,459.2 L571.3,459.2 L571.8,459.2 L572.3,459.2 L572.8,459.2 L573.3,459.2 L573.8,459.2 L574.3,459.2 L574.8,459.2 L575.3,459.2 L575.8,459.2 L576.3,459.2 L576.8,459.2 L577.3,459.2 L577.8,459.2 L578.3,459.2 L578.8,459.2 L579.3,459.2 L579.8,459.2 L580.3,459.2 L580.8,459.2 L581.3,459.2 L581.8,459.2 L582.3,459.2 L582.8,459.2 L583.3,459.2 L583.8,459.2 L584.3,459.2 L584.8,459.2 L585.3,459.2 L585.8,459.2 L586.3,459.2 L586.8,459.2 L587.3,459.2 L587.8,459.2 L588.3,459.2 L588.8,459.2 L589.3,459.2 L589.8,459.2 L590.3,459.2 L590.8,459.2 L591.3,459.2 L591.8,459.2 L592.3,459.2 L592.8,459.2 L593.3,459.2 L593.8,459.2 L594.3,459.2 L594.8,459.2 L595.3,459.2 L595.8,459.2 L596.3,459.2 L596.8,459.2 L597.3,459.2" fill="none" stroke="#ff1a0f" stroke-width="1.05"/>
<path d="M480.3,452.05 L480.8,451.71 L481.3,451.36 L481.8,451 L482.3,450.62 L482.8,450.23 L483.3,449.83 L483.8,449.41 L484.3,448.99 L484.8,448.54 L485.3,448.09 L485.8,447.62 L486.3,447.13 L486.8,446.64 L487.3,446.13 L487.8,445.6 L488.3,445.06 L488.8,444.5 L489.3,443.93 L489.8,443.35 L490.3,442.75 L490.8,442.14 L491.3,441.51 L491.8,440.87 L492.3,440.22 L492.8,439.55 L493.3,438.87 L493.8,438.17 L494.3,437.47 L494.8,436.74 L495.3,436.01 L495.8,435.26 L496.3,434.51 L496.8,433.74 L497.3,432.95 L497.8,432.16 L498.3,431.36 L498.8,430.55 L499.3,429.73 L499.8,428.89 L500.3,428.06 L500.8,427.21 L501.3,426.36 L501.8,425.5 L502.3,424.63 L502.8,423.76 L503.3,422.88 L503.8,422.01 L504.3,421.12 L504.8,420.24 L505.3,419.36 L505.8,418.47 L506.3,417.59 L506.8,416.71 L507.3,415.83 L507.8,414.95 L508.3,414.08 L508.8,413.21 L509.3,412.35 L509.8,411.49 L510.3,410.65 L510.8,409.81 L511.3,408.98 L511.8,408.17 L512.3,407.36 L512.8,406.57 L513.3,405.79 L513.8,405.03 L514.3,404.28 L514.8,403.55 L515.3,402.84 L515.8,402.15 L516.3,401.47 L516.8,400.82 L517.3,400.19 L517.8,399.58 L518.3,398.99 L518.8,398.42 L519.3,397.89 L519.8,397.37 L520.3,396.88 L520.8,396.42 L521.3,395.99 L521.8,395.58 L522.3,395.21 L522.8,394.86 L523.3,394.54 L523.8,394.25 L524.3,393.99 L524.8,393.76 L525.3,393.57 L525.8,393.4 L526.3,393.27 L526.8,393.17 L527.3,393.1 L527.8,393.06 L528.3,393.06 L528.8,393.08 L529.3,393.14 L529.8,393.23 L530.3,393.36 L530.8,393.51 L531.3,393.7 L531.8,393.91 L532.3,394.16 L532.8,394.44 L533.3,394.75 L533.8,395.09 L534.3,395.46 L534.8,395.85 L535.3,396.28 L535.8,396.73 L536.3,397.21 L536.8,397.71 L537.3,398.25 L537.8,398.8 L538.3,399.38 L538.8,399.98 L539.3,400.61 L539.8,401.26 L540.3,401.92 L540.8,402.61 L541.3,403.32 L541.8,404.04 L542.3,404.78 L542.8,405.54 L543.3,406.31 L543.8,407.1 L544.3,407.9 L544.8,408.71 L545.3,409.54 L545.8,410.37 L546.3,411.22 L546.8,412.07 L547.3,412.93 L547.8,413.79 L548.3,414.66 L548.8,415.54 L549.3,416.42 L549.8,417.3 L550.3,418.18 L550.8,419.07 L551.3,419.95 L551.8,420.84 L552.3,421.72 L552.8,422.6 L553.3,423.47 L553.8,424.35 L554.3,425.21 L554.8,426.08 L555.3,426.93 L555.8,427.78 L556.3,428.62 L556.8,429.46 L557.3,430.28 L557.8,431.1 L558.3,431.9 L558.8,432.7 L559.3,433.48 L559.8,434.26 L560.3,435.02 L560.8,435.77 L561.3,436.51 L561.8,437.23 L562.3,437.94 L562.8,438.64 L563.3,439.33 L563.8,440 L564.3,440.66 L564.8,441.31 L565.3,441.94 L565.8,442.55 L566.3,443.16 L566.8,443.75 L567.3,444.32 L567.8,444.88 L568.3,445.42 L568.8,445.96 L569.3,446.47 L569.8,446.97 L570.3,447.46 L570.8,447.94 L571.3,448.4 L571.8,448.84 L572.3,449.28 L572.8,449.7 L573.3,450.1 L573.8,450.5 L574.3,450.88 L574.8,451.24 L575.3,451.6 L575.8,451.94 L576.3,452.27 L576.8,452.59 L577.3,452.9 L577.8,453.19 L578.3,453.48 L578.8,453.75 L579.3,454.01 L579.8,454.27 L580.3,454.51 L580.8,454.74 L581.3,454.97 L581.8,455.18 L582.3,455.38 L582.8,455.58 L583.3,455.77 L583.8,455.95 L584.3,456.12 L584.8,456.29 L585.3,456.44 L585.8,456.59 L586.3,456.73 L586.8,456.87 L587.3,457 L587.8,457.12 L588.3,457.24 L588.8,457.35 L589.3,457.46 L589.8,457.56 L590.3,457.66 L590.8,457.75 L591.3,457.83 L591.8,457.91 L592.3,457.99 L592.8,458.06 L593.3,458.13 L593.8,458.2 L594.3,458.26 L594.8,458.32 L595.3,458.38 L595.8,458.43 L596.3,458.48 L596.8,458.52 L597.3,458.57" fill="none" stroke="#ff1a0f" stroke-width="1.05"/>
<path d="M480.3,459.2 L480.8,459.2 L481.3,459.2 L481.8,459.2 L482.3,459.2 L482.8,459.2 L483.3,459.2 L483.8,459.2 L484.3,459.2 L484.8,459.2 L485.3,459.2 L485.8,459.2 L486.3,459.2 L486.8,459.2 L487.3,459.2 L487.8,459.2 L488.3,459.2 L488.8,459.2 L489.3,459.2 L489.8,459.2 L490.3,459.2 L490.8,459.2 L491.3,459.2 L491.8,459.2 L492.3,459.2 L492.8,459.2 L493.3,459.2 L493.8,459.2 L494.3,459.2 L494.8,459.2 L495.3,459.2 L495.8,459.2 L496.3,459.2 L496.8,459.2 L497.3,459.2 L497.8,459.2 L498.3,459.2 L498.8,459.2 L499.3,459.2 L499.8,459.2 L500.3,459.2 L500.8,459.2 L501.3,459.2 L501.8,459.2 L502.3,459.2 L502.8,459.2 L503.3,459.2 L503.8,459.2 L504.3,459.2 L504.8,459.2 L505.3,459.2 L505.8,459.2 L506.3,459.2 L506.8,459.2 L507.3,459.2 L507.8,459.2 L508.3,459.2 L508.8,459.2 L509.3,459.2 L509.8,459.2 L510.3,459.2 L510.8,459.2 L511.3,459.2 L511.8,459.2 L512.3,459.2 L512.8,459.2 L513.3,459.2 L513.8,459.2 L514.3,459.2 L514.8,459.2 L515.3,459.2 L515.8,459.2 L516.3,459.2 L516.8,459.2 L517.3,459.2 L517.8,459.2 L518.3,459.2 L518.8,459.2 L519.3,459.2 L519.8,459.2 L520.3,459.2 L520.8,459.2 L521.3,459.2 L521.8,459.19 L522.3,459.19 L522.8,459.19 L523.3,459.19 L523.8,459.19 L524.3,459.19 L524.8,459.18 L525.3,459.18 L525.8,459.17 L526.3,459.16 L526.8,459.15 L527.3,459.14 L527.8,459.13 L528.3,459.11 L528.8,459.08 L529.3,459.05 L529.8,459.02 L530.3,458.97 L530.8,458.91 L531.3,458.85 L531.8,458.76 L532.3,458.66 L532.8,458.54 L533.3,458.39 L533.8,458.22 L534.3,458.01 L534.8,457.77 L535.3,457.48 L535.8,457.15 L536.3,456.76 L536.8,456.3 L537.3,455.78 L537.8,455.18 L538.3,454.5 L538.8,453.72 L539.3,452.83 L539.8,451.84 L540.3,450.73 L540.8,449.49 L541.3,448.11 L541.8,446.59 L542.3,444.93 L542.8,443.11 L543.3,441.14 L543.8,439.01 L544.3,436.73 L544.8,434.29 L545.3,431.71 L545.8,428.98 L546.3,426.12 L546.8,423.15 L547.3,420.07 L547.8,416.9 L548.3,413.68 L548.8,410.41 L549.3,407.12 L549.8,403.85 L550.3,400.62 L550.8,397.46 L551.3,394.41 L551.8,391.49 L552.3,388.73 L552.8,386.17 L553.3,383.84 L553.8,381.75 L554.3,379.94 L554.8,378.43 L555.3,377.24 L555.8,376.38 L556.3,375.86 L556.8,375.69 L557.3,375.87 L557.8,376.4 L558.3,377.27 L558.8,378.47 L559.3,379.99 L559.8,381.81 L560.3,383.9 L560.8,386.24 L561.3,388.81 L561.8,391.57 L562.3,394.5 L562.8,397.56 L563.3,400.72 L563.8,403.95 L564.3,407.22 L564.8,410.5 L565.3,413.77 L565.8,417 L566.3,420.16 L566.8,423.24 L567.3,426.21 L567.8,429.06 L568.3,431.79 L568.8,434.37 L569.3,436.8 L569.8,439.08 L570.3,441.2 L570.8,443.17 L571.3,444.98 L571.8,446.64 L572.3,448.15 L572.8,449.52 L573.3,450.76 L573.8,451.87 L574.3,452.86 L574.8,453.74 L575.3,454.52 L575.8,455.2 L576.3,455.8 L576.8,456.32 L577.3,456.77 L577.8,457.16 L578.3,457.49 L578.8,457.78 L579.3,458.02 L579.8,458.23 L580.3,458.4 L580.8,458.54 L581.3,458.66 L581.8,458.76 L582.3,458.85 L582.8,458.92 L583.3,458.97 L583.8,459.02 L584.3,459.05 L584.8,459.08 L585.3,459.11 L585.8,459.13 L586.3,459.14 L586.8,459.15 L587.3,459.16 L587.8,459.17 L588.3,459.18 L588.8,459.18 L589.3,459.19 L589.8,459.19 L590.3,459.19 L590.8,459.19 L591.3,459.19 L591.8,459.2 L592.3,459.2 L592.8,459.2 L593.3,459.2 L593.8,459.2 L594.3,459.2 L594.8,459.2 L595.3,459.2 L595.8,459.2 L596.3,459.2 L596.8,459.2 L597.3,459.2" fill="none" stroke="#ff1a0f" stroke-width="1.05"/>
<path d="M480.3,459.2 L480.8,459.2 L481.3,459.2 L481.8,459.2 L482.3,459.2 L482.8,459.2 L483.3,459.2 L483.8,459.2 L484.3,459.2 L484.8,459.2 L485.3,459.2 L485.8,459.2 L486.3,459.2 L486.8,459.2 L487.3,459.2 L487.8,459.2 L488.3,459.2 L488.8,459.2 L489.3,459.2 L489.8,459.2 L490.3,459.2 L490.8,459.2 L491.3,459.2 L491.8,459.2 L492.3,459.2 L492.8,459.2 L493.3,459.2 L493.8,459.2 L494.3,459.2 L494.8,459.2 L495.3,459.2 L495.8,459.2 L496.3,459.2 L496.8,459.2 L497.3,459.2 L497.8,459.2 L498.3,459.2 L498.8,459.2 L499.3,459.2 L499.8,459.2 L500.3,459.2 L500.8,459.2 L501.3,459.2 L501.8,459.2 L502.3,459.2 L502.8,459.2 L503.3,459.2 L503.8,459.2 L504.3,459.2 L504.8,459.2 L505.3,459.2 L505.8,459.2 L506.3,459.2 L506.8,459.2 L507.3,459.2 L507.8,459.2 L508.3,459.2 L508.8,459.2 L509.3,459.2 L509.8,459.2 L510.3,459.2 L510.8,459.2 L511.3,459.2 L511.8,459.2 L512.3,459.2 L512.8,459.2 L513.3,459.2 L513.8,459.2 L514.3,459.2 L514.8,459.2 L515.3,459.2 L515.8,459.2 L516.3,459.2 L516.8,459.2 L517.3,459.2 L517.8,459.2 L518.3,459.2 L518.8,459.2 L519.3,459.2 L519.8,459.2 L520.3,459.2 L520.8,459.2 L521.3,459.2 L521.8,459.2 L522.3,459.2 L522.8,459.2 L523.3,459.2 L523.8,459.2 L524.3,459.2 L524.8,459.2 L525.3,459.2 L525.8,459.2 L526.3,459.2 L526.8,459.2 L527.3,459.2 L527.8,459.2 L528.3,459.2 L528.8,459.2 L529.3,459.2 L529.8,459.2 L530.3,459.2 L530.8,459.2 L531.3,459.2 L531.8,459.2 L532.3,459.2 L532.8,459.2 L533.3,459.2 L533.8,459.2 L534.3,459.2 L534.8,459.2 L535.3,459.2 L535.8,459.2 L536.3,459.2 L536.8,459.2 L537.3,459.2 L537.8,459.2 L538.3,459.2 L538.8,459.2 L539.3,459.2 L539.8,459.2 L540.3,459.2 L540.8,459.2 L541.3,459.2 L541.8,459.2 L542.3,459.2 L542.8,459.2 L543.3,459.2 L543.8,459.2 L544.3,459.2 L544.8,459.2 L545.3,459.2 L545.8,459.2 L546.3,459.2 L546.8,459.2 L547.3,459.19 L547.8,459.19 L548.3,459.19 L548.8,459.19 L549.3,459.18 L549.8,459.18 L550.3,459.17 L550.8,459.15 L551.3,459.13 L551.8,459.11 L552.3,459.08 L552.8,459.03 L553.3,458.97 L553.8,458.89 L554.3,458.79 L554.8,458.65 L555.3,458.48 L555.8,458.26 L556.3,457.99 L556.8,457.64 L557.3,457.22 L557.8,456.7 L558.3,456.08 L558.8,455.33 L559.3,454.44 L559.8,453.4 L560.3,452.18 L560.8,450.79 L561.3,449.2 L561.8,447.41 L562.3,445.41 L562.8,443.22 L563.3,440.83 L563.8,438.26 L564.3,435.54 L564.8,432.68 L565.3,429.73 L565.8,426.73 L566.3,423.72 L566.8,420.75 L567.3,417.89 L567.8,415.19 L568.3,412.71 L568.8,410.5 L569.3,408.62 L569.8,407.1 L570.3,405.99 L570.8,405.31 L571.3,405.08 L571.8,405.31 L572.3,405.99 L572.8,407.1 L573.3,408.62 L573.8,410.5 L574.3,412.71 L574.8,415.19 L575.3,417.89 L575.8,420.75 L576.3,423.72 L576.8,426.72 L577.3,429.73 L577.8,432.68 L578.3,435.54 L578.8,438.26 L579.3,440.83 L579.8,443.22 L580.3,445.41 L580.8,447.41 L581.3,449.2 L581.8,450.78 L582.3,452.18 L582.8,453.39 L583.3,454.44 L583.8,455.33 L584.3,456.08 L584.8,456.7 L585.3,457.22 L585.8,457.64 L586.3,457.99 L586.8,458.26 L587.3,458.48 L587.8,458.65 L588.3,458.79 L588.8,458.89 L589.3,458.97 L589.8,459.03 L590.3,459.08 L590.8,459.11 L591.3,459.13 L591.8,459.15 L592.3,459.17 L592.8,459.18 L593.3,459.18 L593.8,459.19 L594.3,459.19 L594.8,459.19 L595.3,459.19 L595.8,459.2 L596.3,459.2 L596.8,459.2 L597.3,459.2" fill="none" stroke="#ff1a0f" stroke-width="1.05"/>
<line x1="480.3" y1="459.2" x2="597.5" y2="459.2" stroke="#ff1a0f" stroke-width="1.1"/>
<path d="M478.5,324.15h3.6v3.5h-3.6zM480.3,365.65h3.6v3.5h-3.6zM481.9,387.15h3.6v3.5h-3.6zM484.1,399.55h3.6v3.5h-3.6zM486.2,406.55h3.6v3.5h-3.6zM488,411.25h3.6v3.5h-3.6zM546.1,369.25h3.6v3.5h-3.6zM548,360.65h3.6v3.5h-3.6zM549.8,351.45h3.6v3.5h-3.6zM551.4,343.85h3.6v3.5h-3.6zM553.5,339.05h3.6v3.5h-3.6zM555.5,339.25h3.6v3.5h-3.6zM557.2,341.25h3.6v3.5h-3.6zM558.7,344.85h3.6v3.5h-3.6zM560.5,353.25h3.6v3.5h-3.6zM561.5,359.65h3.6v3.5h-3.6zM562.7,362.85h3.6v3.5h-3.6zM564.7,365.25h3.6v3.5h-3.6zM566.6,366.55h3.6v3.5h-3.6zM568.1,367.45h3.6v3.5h-3.6zM569.3,370.65h3.6v3.5h-3.6zM570.6,380.85h3.6v3.5h-3.6zM572.25,396.7h3.6v3.5h-3.6zM574.4,412.75h3.6v3.5h-3.6zM576.4,426.15h3.6v3.5h-3.6zM578.6,434.55h3.6v3.5h-3.6zM580.8,440.75h3.6v3.5h-3.6zM583,444.65h3.6v3.5h-3.6zM489.8,414.06h3.6v3.5h-3.6zM491.63,416.38h3.6v3.5h-3.6zM493.46,417.84h3.6v3.5h-3.6zM495.29,419.08h3.6v3.5h-3.6zM497.12,419.28h3.6v3.5h-3.6zM498.95,419.41h3.6v3.5h-3.6zM500.78,418.51h3.6v3.5h-3.6zM502.61,417.16h3.6v3.5h-3.6zM504.44,415.33h3.6v3.5h-3.6zM506.27,413.21h3.6v3.5h-3.6zM508.1,411.01h3.6v3.5h-3.6zM509.93,408.73h3.6v3.5h-3.6zM511.76,406.49h3.6v3.5h-3.6zM513.59,404.27h3.6v3.5h-3.6zM515.42,402.08h3.6v3.5h-3.6zM517.25,399.92h3.6v3.5h-3.6zM519.08,397.73h3.6v3.5h-3.6zM520.91,395.06h3.6v3.5h-3.6zM522.74,392.44h3.6v3.5h-3.6zM524.57,392.17h3.6v3.5h-3.6zM526.4,391.89h3.6v3.5h-3.6zM528.23,391.68h3.6v3.5h-3.6zM530.06,391.92h3.6v3.5h-3.6zM531.89,392.16h3.6v3.5h-3.6zM533.72,392.16h3.6v3.5h-3.6zM535.55,391.36h3.6v3.5h-3.6zM537.38,390.01h3.6v3.5h-3.6zM539.21,387.73h3.6v3.5h-3.6zM541.04,384.37h3.6v3.5h-3.6zM542.87,379.97h3.6v3.5h-3.6zM544.7,374.43h3.6v3.5h-3.6zM584.8,447.8h3.6v3.5h-3.6zM586.63,450.68h3.6v3.5h-3.6zM588.46,452.36h3.6v3.5h-3.6zM590.29,453.63h3.6v3.5h-3.6zM592.12,454.48h3.6v3.5h-3.6zM593.95,455.21h3.6v3.5h-3.6zM595.78,455.87h3.6v3.5h-3.6zM597.61,456.24h3.6v3.5h-3.6zM599.44,456.61h3.6v3.5h-3.6zM601.27,456.98h3.6v3.5h-3.6zM603.1,457.21h3.6v3.5h-3.6zM604.93,457.4h3.6v3.5h-3.6zM606.76,457.6h3.6v3.5h-3.6zM608.59,457.77h3.6v3.5h-3.6zM610.42,457.84h3.6v3.5h-3.6zM612.25,457.91h3.6v3.5h-3.6zM614.08,457.99h3.6v3.5h-3.6zM615.91,458.06h3.6v3.5h-3.6zM617.74,458.13h3.6v3.5h-3.6zM619.57,458.18h3.6v3.5h-3.6zM621.4,458.23h3.6v3.5h-3.6zM623.23,458.28h3.6v3.5h-3.6zM625.06,458.32h3.6v3.5h-3.6zM626.89,458.37h3.6v3.5h-3.6zM628.72,458.41h3.6v3.5h-3.6zM630.55,458.46h3.6v3.5h-3.6zM632.38,458.5h3.6v3.5h-3.6zM634.21,458.55h3.6v3.5h-3.6zM636.04,458.6h3.6v3.5h-3.6zM637.87,458.64h3.6v3.5h-3.6zM639.7,458.67h3.6v3.5h-3.6zM641.53,458.7h3.6v3.5h-3.6zM643.36,458.72h3.6v3.5h-3.6zM645.19,458.75h3.6v3.5h-3.6zM647.02,458.78h3.6v3.5h-3.6zM648.85,458.8h3.6v3.5h-3.6zM650.68,458.83h3.6v3.5h-3.6zM652.51,458.86h3.6v3.5h-3.6zM654.34,458.88h3.6v3.5h-3.6zM656.17,458.91h3.6v3.5h-3.6zM658,458.94h3.6v3.5h-3.6zM659,458.95h3.6v3.5h-3.6z" fill="#000"/>
<path d="M480.3,338.4 C480.62,341.6 481.6,351.58 482.2,357.6 C482.8,363.62 483.33,368.85 483.9,374.5 C484.47,380.15 484.95,385.4 485.6,391.5 C486.25,397.6 487.07,406.2 487.8,411.1 C488.53,416 489.13,418.27 490,420.9 C490.87,423.53 492.05,425.65 493,426.9 C493.95,428.15 494.68,428.4 495.7,428.4 C496.72,428.4 497.92,428.03 499.1,426.9 C500.28,425.77 501.55,423.48 502.8,421.6 C504.05,419.72 505.22,417.73 506.6,415.6 C507.98,413.47 509.6,411.07 511.1,408.8 C512.6,406.53 514.15,404.08 515.6,402 C517.05,399.92 518.57,397.8 519.8,396.3 C521.03,394.8 522.03,393.75 523,393 C523.97,392.25 524.82,392.02 525.6,391.8 C526.38,391.58 526.75,391.57 527.7,391.7 C528.65,391.83 530.17,392.3 531.3,392.6 C532.43,392.9 533.47,393.27 534.5,393.5 C535.53,393.73 536.53,394.17 537.5,394 C538.47,393.83 539.28,393.7 540.3,392.5 C541.32,391.3 542.57,389.07 543.6,386.8 C544.63,384.53 545.65,381.9 546.5,378.9 C547.35,375.9 547.95,372.18 548.7,368.8 C549.45,365.42 550.15,362.18 551,358.6 C551.85,355.02 552.95,349.98 553.8,347.3 C554.65,344.62 555.25,342.68 556.1,342.5 C556.95,342.32 557.97,343.9 558.9,346.2 C559.83,348.5 560.77,353.33 561.7,356.3 C562.63,359.27 563.53,362.08 564.5,364 C565.47,365.92 566.68,366.67 567.5,367.8 C568.32,368.93 568.9,369.67 569.4,370.8 C569.9,371.93 570.12,372.97 570.5,374.6 C570.88,376.23 571.27,378.03 571.7,380.6 C572.13,383.17 572.58,386.55 573.1,390 C573.62,393.45 574.3,397.53 574.8,401.3 C575.3,405.07 575.63,408.83 576.1,412.6 C576.57,416.37 577.07,420.13 577.6,423.9 C578.13,427.67 578.63,431.62 579.3,435.2 C579.97,438.78 580.57,442.17 581.6,445.4 C582.63,448.63 583.98,452.63 585.5,454.6 C587.02,456.57 588.78,456.57 590.7,457.2 C592.62,457.83 595.95,458.2 597,458.4" fill="none" stroke="#1010ff" stroke-width="1.3"/>
<line x1="597" y1="458.9" x2="661" y2="458.9" stroke="#f03cf0" stroke-width="1.4"/>
<rect x="151.7" y="1.7" width="105.5" height="32.8" fill="#fff" stroke="#111" stroke-width="1.3"/>
<circle cx="160.3" cy="10.8" r="2.5" fill="#000"/>
<circle cx="160.3" cy="24.5" r="2.5" fill="#ff1a0f"/>
<rect x="169.5" y="5.6" width="21.3" height="10.3" fill="#b3b4b3" stroke="#a9a9a9" stroke-width="0.7"/>
<rect x="169.6" y="19.5" width="21.1" height="10.2" fill="#f1aab1" stroke="#a9a9a9" stroke-width="0.7"/>
<text x="193.2" y="14.2" font-size="9.4" fill="#111">WT ProQ, NT</text>
<text x="193.2" y="27.9" font-size="9.4" fill="#111">WT ProQ, RIF</text>
<rect x="151.7" y="273.6" width="105.5" height="32.8" fill="#fff" stroke="#111" stroke-width="1.3"/>
<circle cx="160.3" cy="282.7" r="2.5" fill="#000"/>
<circle cx="160.3" cy="296.4" r="2.5" fill="#ff1a0f"/>
<rect x="169.5" y="277.5" width="21.3" height="10.3" fill="#b3b4b3" stroke="#a9a9a9" stroke-width="0.7"/>
<rect x="169.6" y="291.4" width="21.1" height="10.2" fill="#f1aab1" stroke="#a9a9a9" stroke-width="0.7"/>
<text x="193.2" y="286.1" font-size="9.4" fill="#111">WT ProQ, NT</text>
<text x="193.2" y="299.8" font-size="9.4" fill="#111">WT ProQ, RIF</text>
<rect x="536.2" y="1.7" width="105.5" height="32.8" fill="#fff" stroke="#111" stroke-width="1.3"/>
<circle cx="544.8" cy="10.8" r="2.5" fill="#000"/>
<circle cx="544.8" cy="24.5" r="2.5" fill="#ff1a0f"/>
<rect x="554" y="5.6" width="21.3" height="10.3" fill="#b3b4b3" stroke="#a9a9a9" stroke-width="0.7"/>
<rect x="554.1" y="19.5" width="21.1" height="10.2" fill="#f1aab1" stroke="#a9a9a9" stroke-width="0.7"/>
<text x="577.7" y="14.2" font-size="9.4" fill="#111">WT ProQ, NT</text>
<text x="577.7" y="27.9" font-size="9.4" fill="#111">WT ProQ, RIF</text>
</svg>
</body></html>
